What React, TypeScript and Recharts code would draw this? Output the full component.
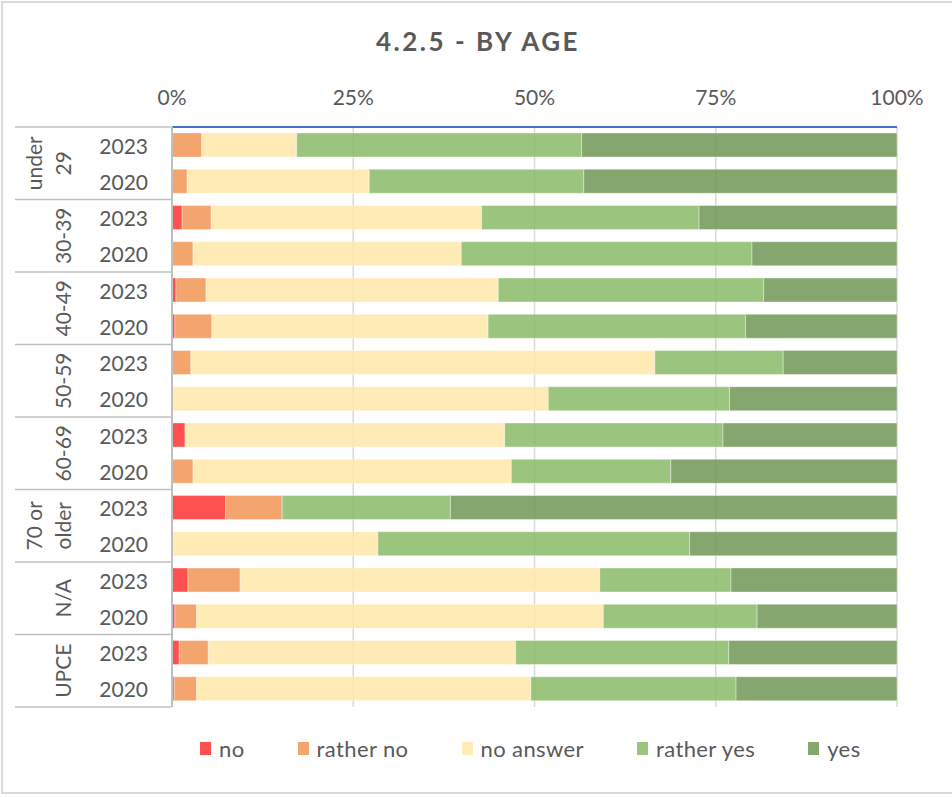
import React from 'react';
import { BarChart, Bar, XAxis, YAxis, CartesianGrid, Legend } from 'recharts';

// Age groups, each split into two survey years
const groups = ['under 29', '30-39', '40-49', '50-59', '60-69', '70 or older', 'N/A', 'UPCE'];
const groupLines = [['under', '29'], ['30-39'], ['40-49'], ['50-59'], ['60-69'], ['70 or', 'older'], ['N/A'], ['UPCE']];
const years = ['2023', '2020'];

// Share of answers (%) per row, rows ordered group by group, 2023 then 2020
const no = [0, 0, 1.4, 0, 0.55, 0.4, 0, 0, 1.8, 0, 7.4, 0, 2.2, 0.4, 1.0, 0.3];
const ratherNo = [4.1, 2.1, 4.0, 2.9, 4.15, 5.1, 2.6, 0, 0, 2.9, 7.8, 0, 7.2, 3.0, 4.0, 3.1];
const noAnswer = [13.1, 25.1, 37.3, 37.0, 40.3, 38.1, 64.0, 51.9, 44.1, 43.9, 0, 28.4, 49.6, 56.1, 42.4, 46.1];
const ratherYes = [39.3, 29.6, 30.0, 40.1, 36.6, 35.5, 17.7, 25.0, 30.1, 22.0, 23.2, 43.0, 18.1, 21.2, 29.4, 28.3];
const yes = [43.5, 43.2, 27.3, 20.0, 18.4, 20.9, 15.7, 23.1, 24.0, 31.2, 61.6, 28.6, 22.9, 19.3, 23.2, 22.2];

const xTicks = [0, 25, 50, 75, 100];

const seriesDefs = [
  { key: 'no', name: 'no', color: '#FF3131', values: no },
  { key: 'ratherNo', name: 'rather no', color: '#F29454', values: ratherNo },
  { key: 'noAnswer', name: 'no answer', color: '#FFE8A9', values: noAnswer },
  { key: 'ratherYes', name: 'rather yes', color: '#89BB67', values: ratherYes },
  { key: 'yes', name: 'yes', color: '#719656', values: yes },
];

const rows = groups.flatMap((g, gi) =>
  years.map((y, yi) => {
    const i = gi * years.length + yi;
    const row: Record<string, any> = { group: g, year: y, idx: i };
    seriesDefs.forEach((s) => {
      row[s.key] = s.values[i];
    });
    return row;
  })
);

const FONT = 'Lato, "Open Sans", sans-serif';
const TEXT = '#595959';
const BAR_OPACITY = 0.85;

const TopTick = (props: any) => {
  const { x, y, payload } = props;
  return (
    <text x={x} y={y} dy={-14} textAnchor="middle" fill={TEXT} fontSize={21} fontFamily={FONT}>
      {`${payload.value}%`}
    </text>
  );
};

const CategoryTick = (props: any) => {
  const { y, payload } = props;
  const index: number = payload.index ?? props.index;
  const half: number = payload.offset || 18.125;
  const row = rows[index];
  const gi = Math.floor(index / years.length);
  const isFirst = index % years.length === 0;
  const isLast = index === rows.length - 1;
  const lines = groupLines[gi];
  const groupCenterY = y - half + years.length * half;
  return (
    <g>
      <text
        x={148}
        y={y}
        textAnchor="end"
        dominantBaseline="central"
        fill={TEXT}
        fontSize={21}
        fontFamily={FONT}
      >
        {row.year}
      </text>
      {isFirst && (
        <line x1={15} x2={171} y1={y - half} y2={y - half} stroke="#BFBFBF" strokeWidth={1.5} />
      )}
      {isLast && (
        <line x1={15} x2={171} y1={y + half} y2={y + half} stroke="#BFBFBF" strokeWidth={1.5} />
      )}
      {isFirst &&
        lines.map((ln, li) => {
          const cx = 62 - (lines.length - 1 - li) * 29;
          return (
            <text
              key={ln}
              x={cx}
              y={groupCenterY}
              textAnchor="middle"
              dominantBaseline="central"
              transform={`rotate(-90, ${cx}, ${groupCenterY})`}
              fill={TEXT}
              fontSize={21}
              fontFamily={FONT}
            >
              {ln}
            </text>
          );
        })}
    </g>
  );
};

const renderLegend = () => (
  <div
    style={{
      height: 60,
      width: 900,
      boxSizing: 'border-box',
      paddingTop: 22,
      display: 'flex',
      flexWrap: 'nowrap',
      justifyContent: 'flex-start',
      alignItems: 'center',
      paddingLeft: 200 - 15,
      fontFamily: FONT,
      fontSize: 22,
      letterSpacing: 0.4,
      color: TEXT,
      whiteSpace: 'nowrap',
    }}
  >
    {seriesDefs.map((s) => (
      <div key={s.key} style={{ display: 'flex', alignItems: 'center', marginRight: 53, flexShrink: 0 }}>
        <span
          style={{
            width: 11,
            height: 13,
            background: s.color,
            opacity: BAR_OPACITY,
            display: 'inline-block',
            marginRight: 8,
            flexShrink: 0,
          }}
        />
        <span>{s.name}</span>
      </div>
    ))}
  </div>
);

export default function App() {
  return (
    <div style={{ position: 'absolute', left: 0, top: 0, width: 952, height: 797, background: '#fff', overflow: 'hidden' }}>
      <div
        style={{
          position: 'absolute',
          left: 1,
          top: 1,
          width: 980,
          height: 793,
          border: '2px solid #D9D9D9',
          boxSizing: 'border-box',
        }}
      />
      <div
        style={{
          position: 'absolute',
          left: 0,
          top: 25,
          width: 952,
          textAlign: 'center',
          fontFamily: FONT,
          fontWeight: 700,
          fontSize: 26,
          letterSpacing: 2.5,
          color: TEXT,
          paddingLeft: 2,
        }}
      >
        4.2.5 - BY AGE
      </div>
      <div style={{ position: 'absolute', left: 0, top: 0 }}>
        <BarChart
          width={952}
          height={797}
          data={rows}
          layout="vertical"
          margin={{ top: 87, right: 55, left: 15, bottom: 30 }}
          barSize={24}
        >
          <CartesianGrid horizontal={false} vertical stroke="#D9D9D9" strokeWidth={1.5} />
          <XAxis
            type="number"
            orientation="top"
            domain={[0, 100]}
            ticks={xTicks}
            tick={<TopTick />}
            tickLine={false}
            axisLine={{ stroke: '#4472C4', strokeWidth: 2 }}
            height={40}
            interval={0}
          />
          <YAxis
            type="category"
            dataKey="year"
            width={157}
            tick={<CategoryTick />}
            tickLine={false}
            axisLine={{ stroke: '#BFBFBF', strokeWidth: 2 }}
            interval={0}
          />
          <Legend verticalAlign="bottom" align="left" content={renderLegend} />
          {seriesDefs.map((s) => (
            <Bar
              key={s.key}
              dataKey={s.key}
              name={s.name}
              stackId="a"
              fill={s.color}
              fillOpacity={BAR_OPACITY}
              stroke="#ffffff"
              strokeOpacity={0.5}
              strokeWidth={0.75}
              isAnimationActive={false}
            />
          ))}
        </BarChart>
      </div>
    </div>
  );
}
